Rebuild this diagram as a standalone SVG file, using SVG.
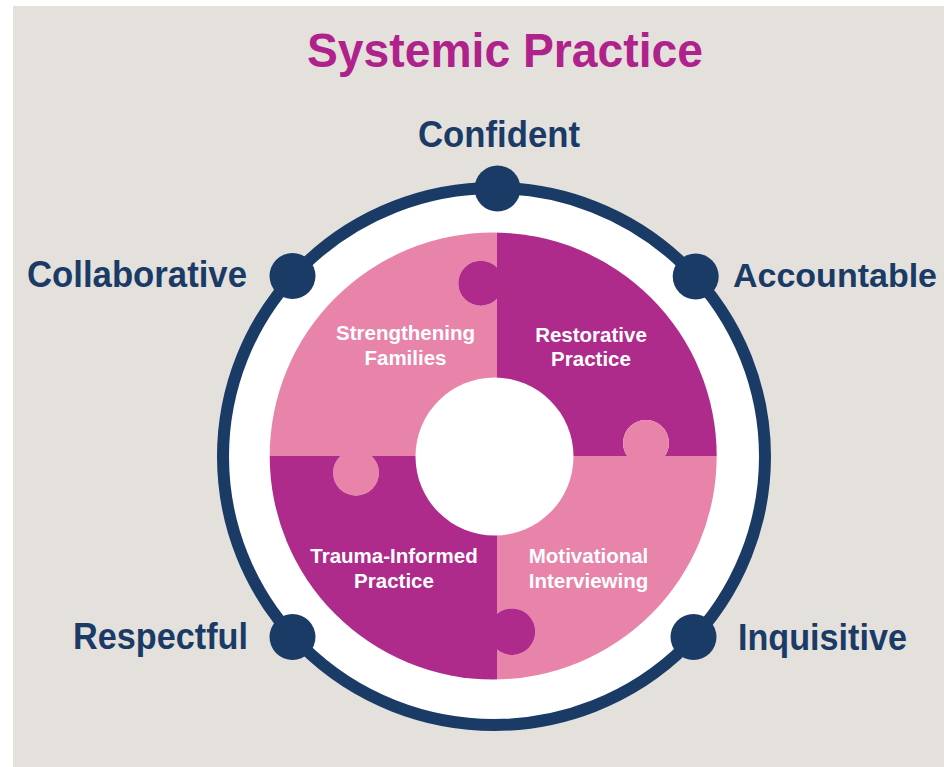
<svg xmlns="http://www.w3.org/2000/svg" width="944" height="767" viewBox="0 0 944 767">
  <style>
    .title { font-family: "Liberation Sans", Arial, Helvetica, sans-serif; font-weight: bold; font-size: 48px; fill: #b0228b; }
    .value { font-family: "Liberation Sans", Arial, Helvetica, sans-serif; font-weight: bold; font-size: 36px; fill: #1b3b67; text-anchor: middle; }
    .piece-label { font-family: "Liberation Sans", Arial, Helvetica, sans-serif; font-weight: bold; font-size: 20.5px; fill: #ffffff; text-anchor: middle; }
    .dot { fill: #1b3b67; }
    .pink { fill: #e883aa; }
    .magenta { fill: #ae2b8c; }
  </style>
  <defs>
    <clipPath id="puzzle-clip">
      <circle cx="493.2" cy="456" r="223.5"/>
    </clipPath>
  </defs>

  <!-- page -->
  <rect x="0" y="0" width="944" height="767" fill="#ffffff"/>
  <rect x="13" y="6" width="931" height="761" fill="#e4e1dd"/>

  <text class="title" x="505" y="67" text-anchor="middle" textLength="396" lengthAdjust="spacingAndGlyphs">Systemic Practice</text>

  <!-- outer ring -->
  <g id="connectors">
    <ellipse cx="494" cy="456.5" rx="271" ry="268.5" fill="#ffffff" stroke="#1b3b67" stroke-width="12"/>
  </g>

  <!-- jigsaw quadrants -->
  <g id="puzzle" clip-path="url(#puzzle-clip)">
    <g id="strengthening-families">
      <path class="pink" d="M260,225 H497 V267.6 A22.5,22.5 0 1 0 497,298.8 V456 H371.6 A22.9,22.9 0 1 1 340.4,456 H260 Z"/>
    </g>
    <g id="restorative-practice">
      <path class="magenta" d="M497,225 H730 V456 H664.85 A22.9,22.9 0 1 0 627.15,456 H497 V298.8 A22.5,22.5 0 1 1 497,267.6 Z"/>
    </g>
    <g id="motivational-interviewing">
      <path class="pink" d="M497,456 H627.15 A22.9,22.9 0 1 1 664.85,456 H730 V690 H497 V649.53 A23.3,23.3 0 1 0 497,613.87 Z"/>
    </g>
    <g id="trauma-informed-practice">
      <path class="magenta" d="M260,456 H340.4 A22.9,22.9 0 1 0 371.6,456 H497 V613.87 A23.3,23.3 0 1 1 497,649.53 V690 H260 Z"/>
    </g>
  </g>
  <circle id="hub" cx="494.5" cy="456.5" r="79" fill="#ffffff"/>

  <g id="piece-labels">
    <text class="piece-label" x="405.5" y="340">Strengthening</text>
    <text class="piece-label" x="405.5" y="364.5">Families</text>
    <text class="piece-label" x="591" y="341.5">Restorative</text>
    <text class="piece-label" x="591" y="366">Practice</text>
    <text class="piece-label" x="394" y="563">Trauma-Informed</text>
    <text class="piece-label" x="394" y="587.5">Practice</text>
    <text class="piece-label" x="588.5" y="563">Motivational</text>
    <text class="piece-label" x="588.5" y="587.5">Interviewing</text>
  </g>

  <!-- values around the ring -->
  <g id="confident">
    <circle class="dot" cx="497.5" cy="188.5" r="23"/>
    <text class="value" x="499" y="147" textLength="162" lengthAdjust="spacingAndGlyphs">Confident</text>
  </g>
  <g id="collaborative">
    <circle class="dot" cx="292.5" cy="276" r="23"/>
    <text class="value" x="137" y="287" textLength="220" lengthAdjust="spacingAndGlyphs">Collaborative</text>
  </g>
  <g id="accountable">
    <circle class="dot" cx="695.7" cy="276.5" r="23"/>
    <text class="value" x="835" y="287" style="font-size:34px">Accountable</text>
  </g>
  <g id="respectful">
    <circle class="dot" cx="292.5" cy="637" r="23"/>
    <text class="value" x="160.5" y="649" textLength="175" lengthAdjust="spacingAndGlyphs">Respectful</text>
  </g>
  <g id="inquisitive">
    <circle class="dot" cx="693.5" cy="637" r="23"/>
    <text class="value" x="822.5" y="650" textLength="169" lengthAdjust="spacingAndGlyphs">Inquisitive</text>
  </g>
</svg>
